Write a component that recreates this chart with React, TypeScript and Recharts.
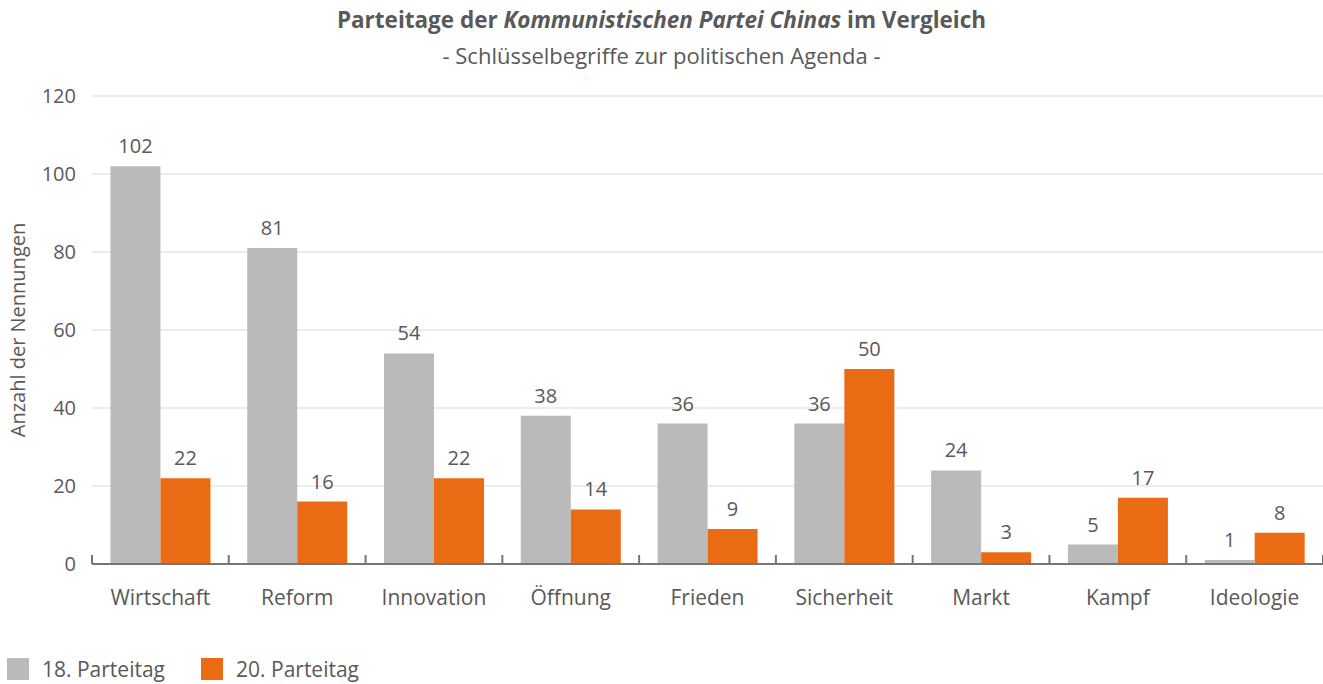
import { BarChart, Bar, XAxis, YAxis, CartesianGrid, LabelList } from 'recharts';

const categories = ['Wirtschaft', 'Reform', 'Innovation', 'Öffnung', 'Frieden', 'Sicherheit', 'Markt', 'Kampf', 'Ideologie'];
const parteitag18 = [102, 81, 54, 38, 36, 36, 24, 5, 1];
const parteitag20 = [22, 16, 22, 14, 9, 50, 3, 17, 8];
const yTicks = [0, 20, 40, 60, 80, 100, 120];

const seriesNames = ['18. Parteitag', '20. Parteitag'];
const GRAY = '#bababa';
const ORANGE = '#eb6a14';
const TEXT = '#595959';
const FONT = '"Open Sans", "Noto Sans", sans-serif';

const W = 1323;
const H = 684;
const M = { top: 96, right: 0, bottom: 40, left: 0 };
const Y_W = 92;
const bandW = (W - M.left - M.right - Y_W) / categories.length;
// tick props y sits below the axis line by tickSize + tickMargin
const AXIS_OFFSET = 8;

const data = categories.map((c, i) => ({ name: c, a: parteitag18[i], b: parteitag20[i] }));

function CatTick(props: any) {
  const { x, y, payload, index } = props;
  const ay = y - AXIS_OFFSET;
  const lx = x - bandW / 2;
  return (
    <g>
      <line x1={lx} y1={ay} x2={lx} y2={ay - 9} stroke="#767676" strokeWidth={2} />
      {index === categories.length - 1 && (
        <line x1={x + bandW / 2} y1={ay} x2={x + bandW / 2} y2={ay - 9} stroke="#767676" strokeWidth={2} />
      )}
      <text x={x} y={ay + 33} textAnchor="middle" dominantBaseline="central" fill={TEXT} fontSize={21} fontFamily={FONT}>
        {payload.value}
      </text>
    </g>
  );
}

function YLabel(props: any) {
  const vb = props.viewBox;
  const cx = vb.x + 17;
  const cy = vb.y + vb.height / 2;
  return (
    <text x={cx} y={cy} transform={`rotate(-90 ${cx} ${cy})`} textAnchor="middle" dominantBaseline="central" fill={TEXT} fontSize={20} fontFamily={FONT}>
      Anzahl der Nennungen
    </text>
  );
}

export default function App() {
  return (
    <div style={{ position: 'absolute', left: 0, top: 0, width: W, height: H, background: '#fff', fontFamily: FONT, color: TEXT }}>
      <div style={{ position: 'absolute', top: 4, left: 0, width: W, textAlign: 'center', fontSize: 22.5, fontWeight: 700, lineHeight: '32px' }}>
        Parteitage der <i>Kommunistischen Partei Chinas</i> im Vergleich
      </div>
      <div style={{ position: 'absolute', top: 39, left: 0, width: W, textAlign: 'center', fontSize: 22, lineHeight: '32px' }}>
        - Schlüsselbegriffe zur politischen Agenda -
      </div>
      <BarChart width={W} height={H} data={data} margin={M} barGap={0} barCategoryGap="13.5%">
        <CartesianGrid vertical={false} stroke="#d9d9d9" strokeWidth={1} />
        <XAxis
          dataKey="name"
          axisLine={{ stroke: '#767676', strokeWidth: 2 }}
          tickLine={false}
          tick={<CatTick />}
          height={80}
          interval={0}
        />
        <YAxis
          width={Y_W}
          domain={[0, 120]}
          ticks={yTicks}
          axisLine={false}
          tickLine={false}
          tickMargin={10}
          tick={{ fill: TEXT, fontSize: 20, fontFamily: FONT }}
          label={<YLabel />}
        />
        <Bar dataKey="a" name={seriesNames[0]} fill={GRAY} isAnimationActive={false}>
          <LabelList dataKey="a" position="top" offset={13} fill={TEXT} fontSize={20} fontFamily={FONT} />
        </Bar>
        <Bar dataKey="b" name={seriesNames[1]} fill={ORANGE} isAnimationActive={false}>
          <LabelList dataKey="b" position="top" offset={13} fill={TEXT} fontSize={20} fontFamily={FONT} />
        </Bar>
      </BarChart>
      <div style={{ position: 'absolute', left: 7, top: 656, display: 'flex', alignItems: 'center', fontSize: 21, lineHeight: '26px' }}>
        {seriesNames.map((n, i) => (
          <div key={n} style={{ display: 'flex', alignItems: 'center', marginRight: 36 }}>
            <span style={{ display: 'inline-block', width: 22, height: 22, background: i === 0 ? GRAY : ORANGE, marginRight: 13 }} />
            <span>{n}</span>
          </div>
        ))}
      </div>
    </div>
  );
}
